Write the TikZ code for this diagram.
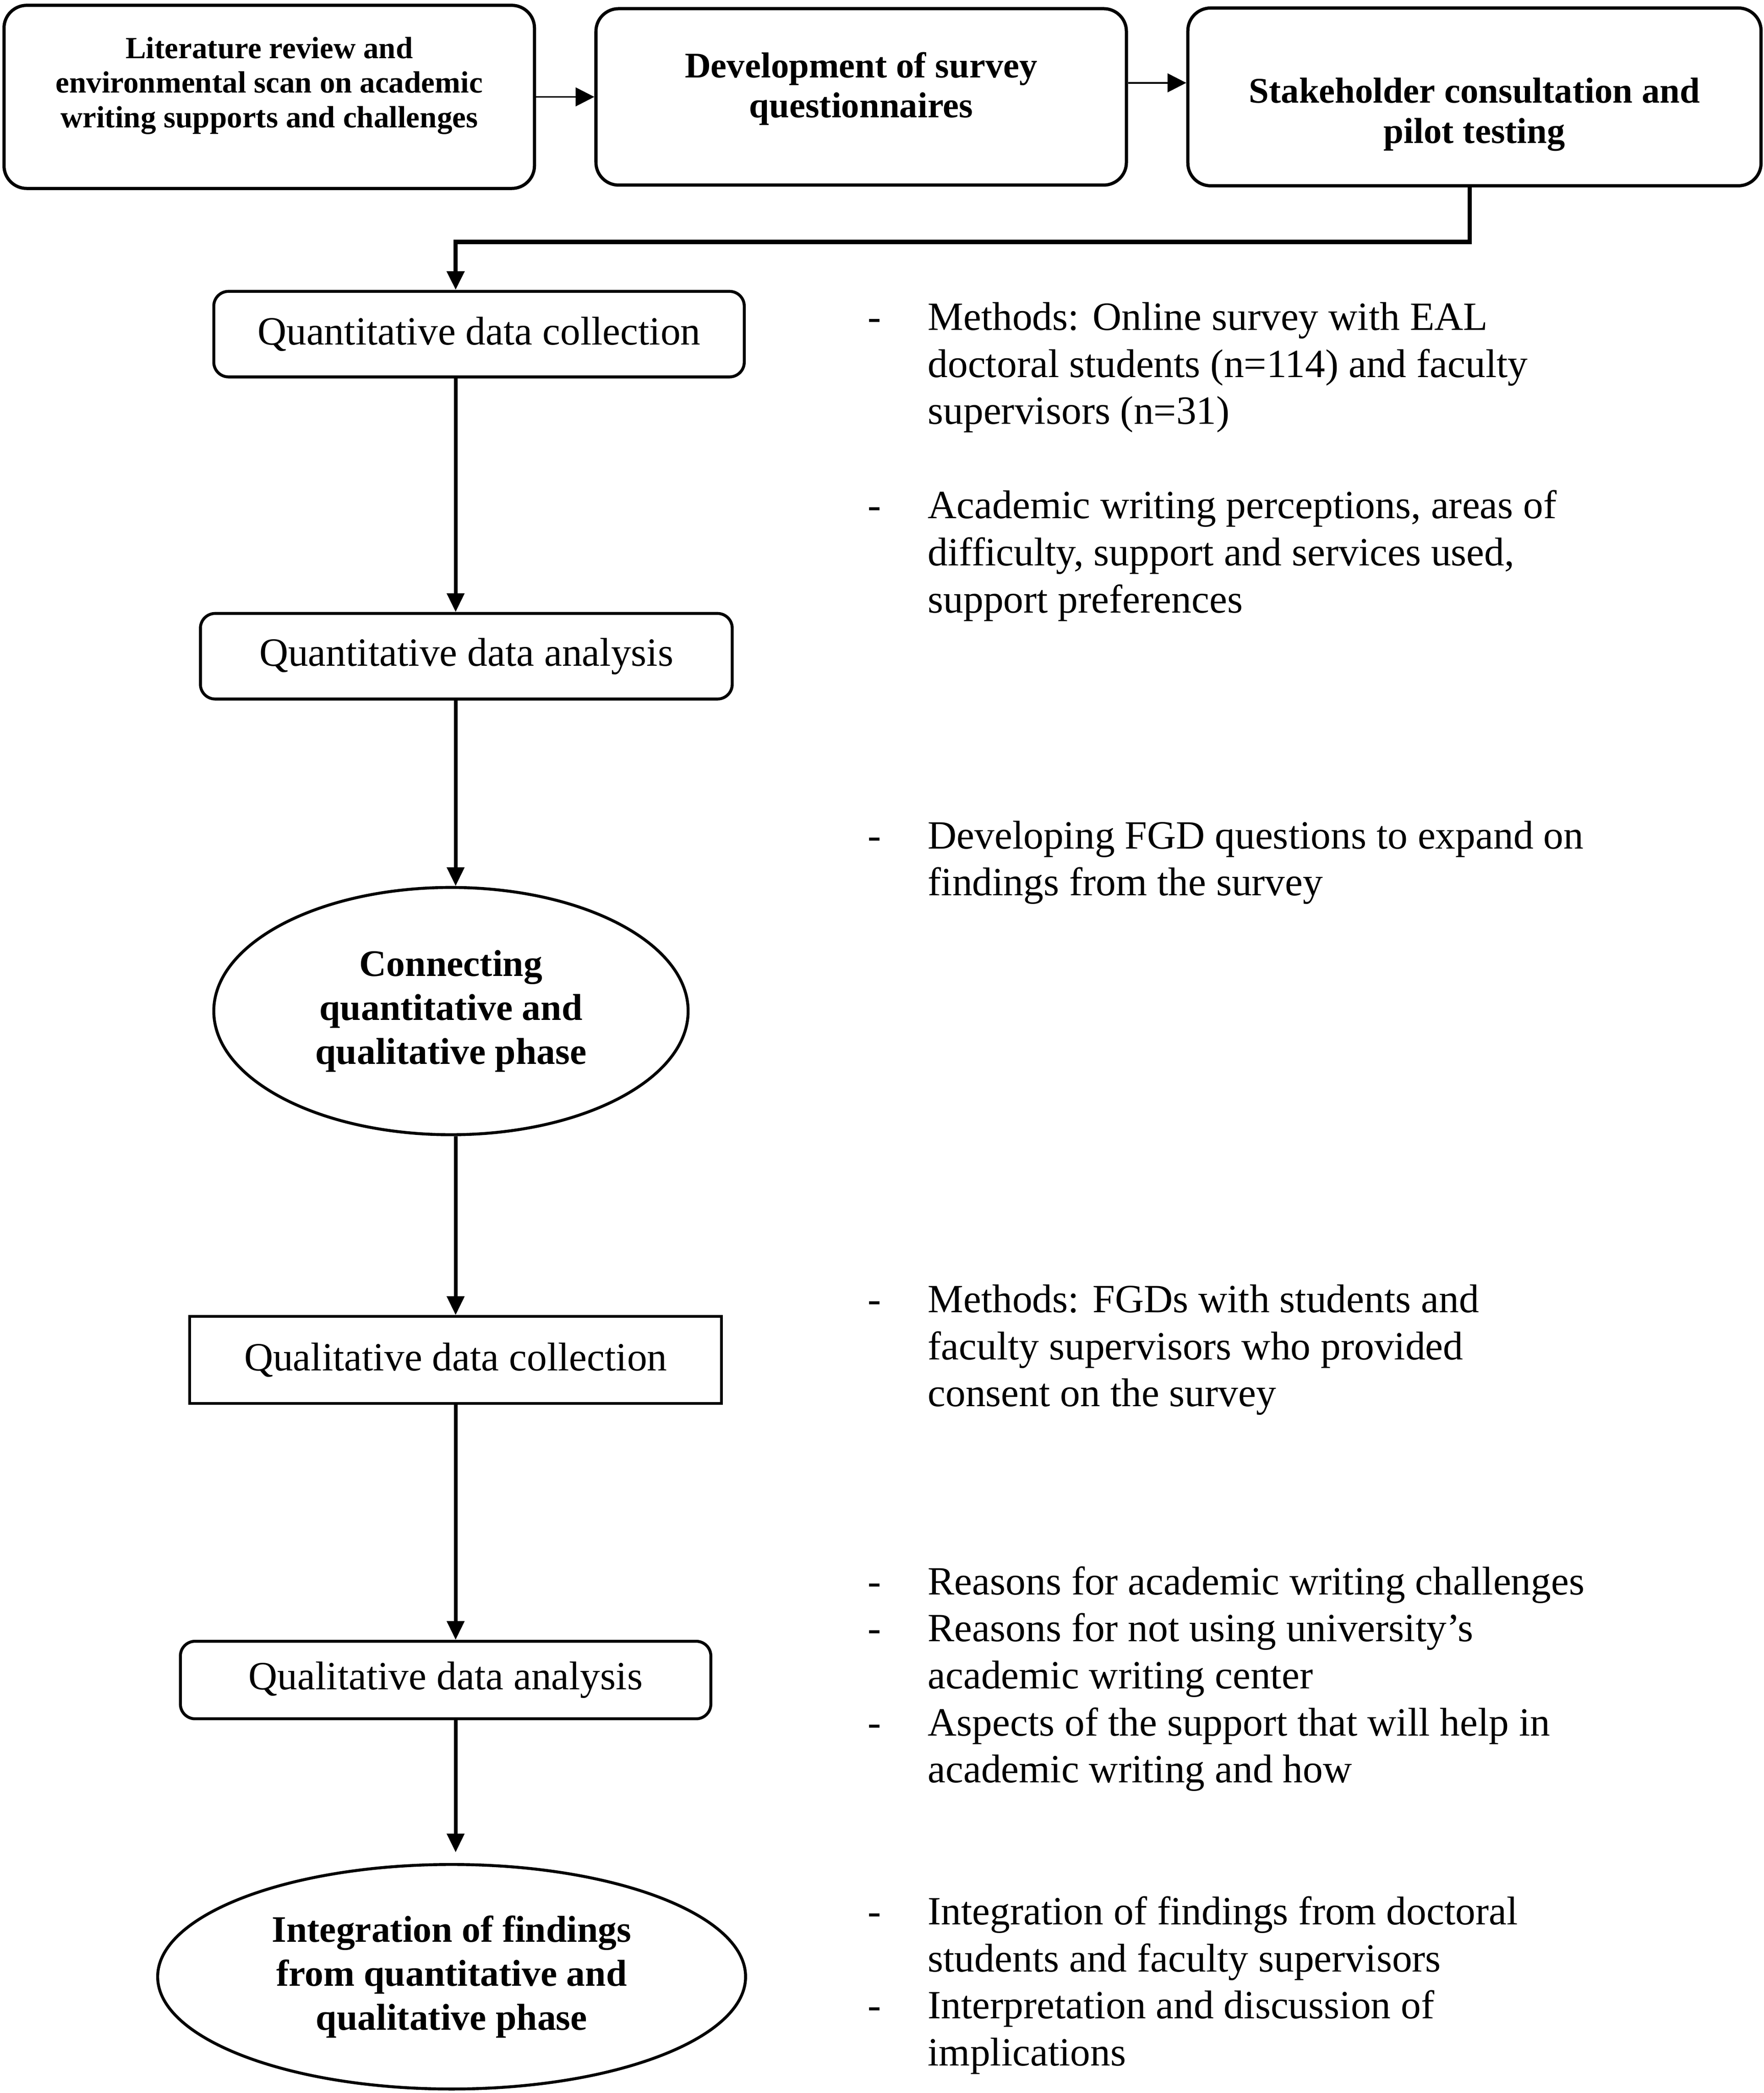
\documentclass[tikz,border=0pt]{standalone}
\usepackage{fontspec}
\setmainfont{Liberation Serif}
\usetikzlibrary{positioning,shapes.geometric,arrows.meta}

\tikzset{
  topbox/.style={draw, rectangle, rounded corners=8.5pt, line width=1.2pt, inner sep=0pt,
    minimum width=198.5pt, minimum height=67pt, font=\bfseries\fontsize{13.5}{15}\selectfont},
  stepbox/.style={draw, rectangle, rounded corners=5.5pt, line width=1.1pt, inner sep=0pt,
    minimum width=198.5pt, minimum height=32pt, font=\fontsize{15}{17.6}\selectfont},
  phase/.style={draw, ellipse, line width=1.1pt, inner sep=0pt, align=center,
    font=\bfseries\fontsize{14}{16.5}\selectfont},
  note/.style={anchor=base west, inner sep=0pt, font=\fontsize{15}{17.6}\selectfont},
  arr/.style={-{Triangle[length=7pt,width=6.4pt]}, line width=1.3pt},
  thinarr/.style={-{Triangle[length=7pt,width=7pt]}, line width=0.6pt}
}

\begin{document}
\begin{tikzpicture}[x=0.5pt, y=-0.5pt, node distance=21.8pt]
  \useasboundingbox (0,0) rectangle (1320,1566);

  % preparation row
  \node[topbox, minimum height=68.5pt, text height=0pt, text depth=28.9pt,
        font=\bfseries\fontsize{11.5}{13}\selectfont] (lit) at (201.5,72.5)
    {\begin{tabular}[t]{@{}c@{}}Literature review and\\ environmental scan on academic\\ writing supports and challenges\end{tabular}};
  \node[topbox, right=of lit, minimum height=66pt, text height=0pt, text depth=14.5pt] (dev)
    {\begin{tabular}[t]{@{}c@{}}Development of survey\\ questionnaires\end{tabular}};
  \node[topbox, right=of dev, minimum width=214.5pt, minimum height=66.5pt, text height=4.5pt, text depth=0pt] (stake)
    {\begin{tabular}[t]{@{}c@{}}Stakeholder consultation and\\ pilot testing\end{tabular}};

  \draw[thinarr] (lit.east) -- (dev.west);
  \draw[thinarr] ([yshift=5.25pt]dev.east) -- ([yshift=5.25pt]dev.east -| stake.west);

  % main column
  \node[stepbox] (qcoll) at (358.5,250) {Quantitative data collection};
  \node[stepbox, minimum width=199pt] (qana) at (349,491) {Quantitative data analysis};
  \node[phase, minimum width=177.5pt, minimum height=92.5pt] (connect) at (337.5,756.5)
    {Connecting\\ quantitative and\\ qualitative phase};
  \node[stepbox, rounded corners=0pt, minimum width=199pt, minimum height=32.5pt] (lcoll) at (341,1017.5) {Qualitative data collection};
  \node[stepbox, minimum height=29pt] (lana) at (333.5,1257) {Qualitative data analysis};
  \node[phase, minimum width=220pt, minimum height=84pt] (integ) at (338,1479)
    {Integration of findings\\ from quantitative and\\ qualitative phase};

  \coordinate (spine) at (341,0);
  \coordinate (bend) at (341,181);
  \draw[arr, line width=1.6pt] ([xshift=-1.75pt]stake.south) |- (bend) -- (bend |- qcoll.north);
  \draw[arr] (qcoll.south -| spine) -- (qana.north -| spine);
  \draw[arr] (qana.south -| spine) -- (connect.north -| spine);
  \draw[arr] (connect.south -| spine) -- (lcoll.north -| spine);
  \draw[arr] (lcoll.south -| spine) -- (lana.north -| spine);
  \draw[arr, shorten >=4pt] (lana.south -| spine) -- (integ.north -| spine);

  % notes on the right
  \node[note] (n1) at (649,247) {\begin{tabular}[t]{@{}p{22.5pt}@{}l@{}}
    - & Methods: Online survey with EAL\\
      & doctoral students (n=114) and faculty\\
      & supervisors (n=31)\end{tabular}};
  \node[note] (n2) at (649,388) {\begin{tabular}[t]{@{}p{22.5pt}@{}l@{}}
    - & Academic writing perceptions, areas of\\
      & difficulty, support and services used,\\
      & support preferences\end{tabular}};
  \node[note] (n3) at (649,635) {\begin{tabular}[t]{@{}p{22.5pt}@{}l@{}}
    - & Developing FGD questions to expand on\\
      & findings from the survey\end{tabular}};
  \node[note] (n4) at (649,982) {\begin{tabular}[t]{@{}p{22.5pt}@{}l@{}}
    - & Methods: FGDs with students and\\
      & faculty supervisors who provided\\
      & consent on the survey\end{tabular}};
  \node[note] (n5) at (649,1193) {\begin{tabular}[t]{@{}p{22.5pt}@{}l@{}}
    - & Reasons for academic writing challenges\\
    - & Reasons for not using university’s\\
      & academic writing center\\
    - & Aspects of the support that will help in\\
      & academic writing and how\end{tabular}};
  \node[note] (n6) at (649,1440) {\begin{tabular}[t]{@{}p{22.5pt}@{}l@{}}
    - & Integration of findings from doctoral\\
      & students and faculty supervisors\\
    - & Interpretation and discussion of\\
      & implications\end{tabular}};
\end{tikzpicture}
\end{document}
